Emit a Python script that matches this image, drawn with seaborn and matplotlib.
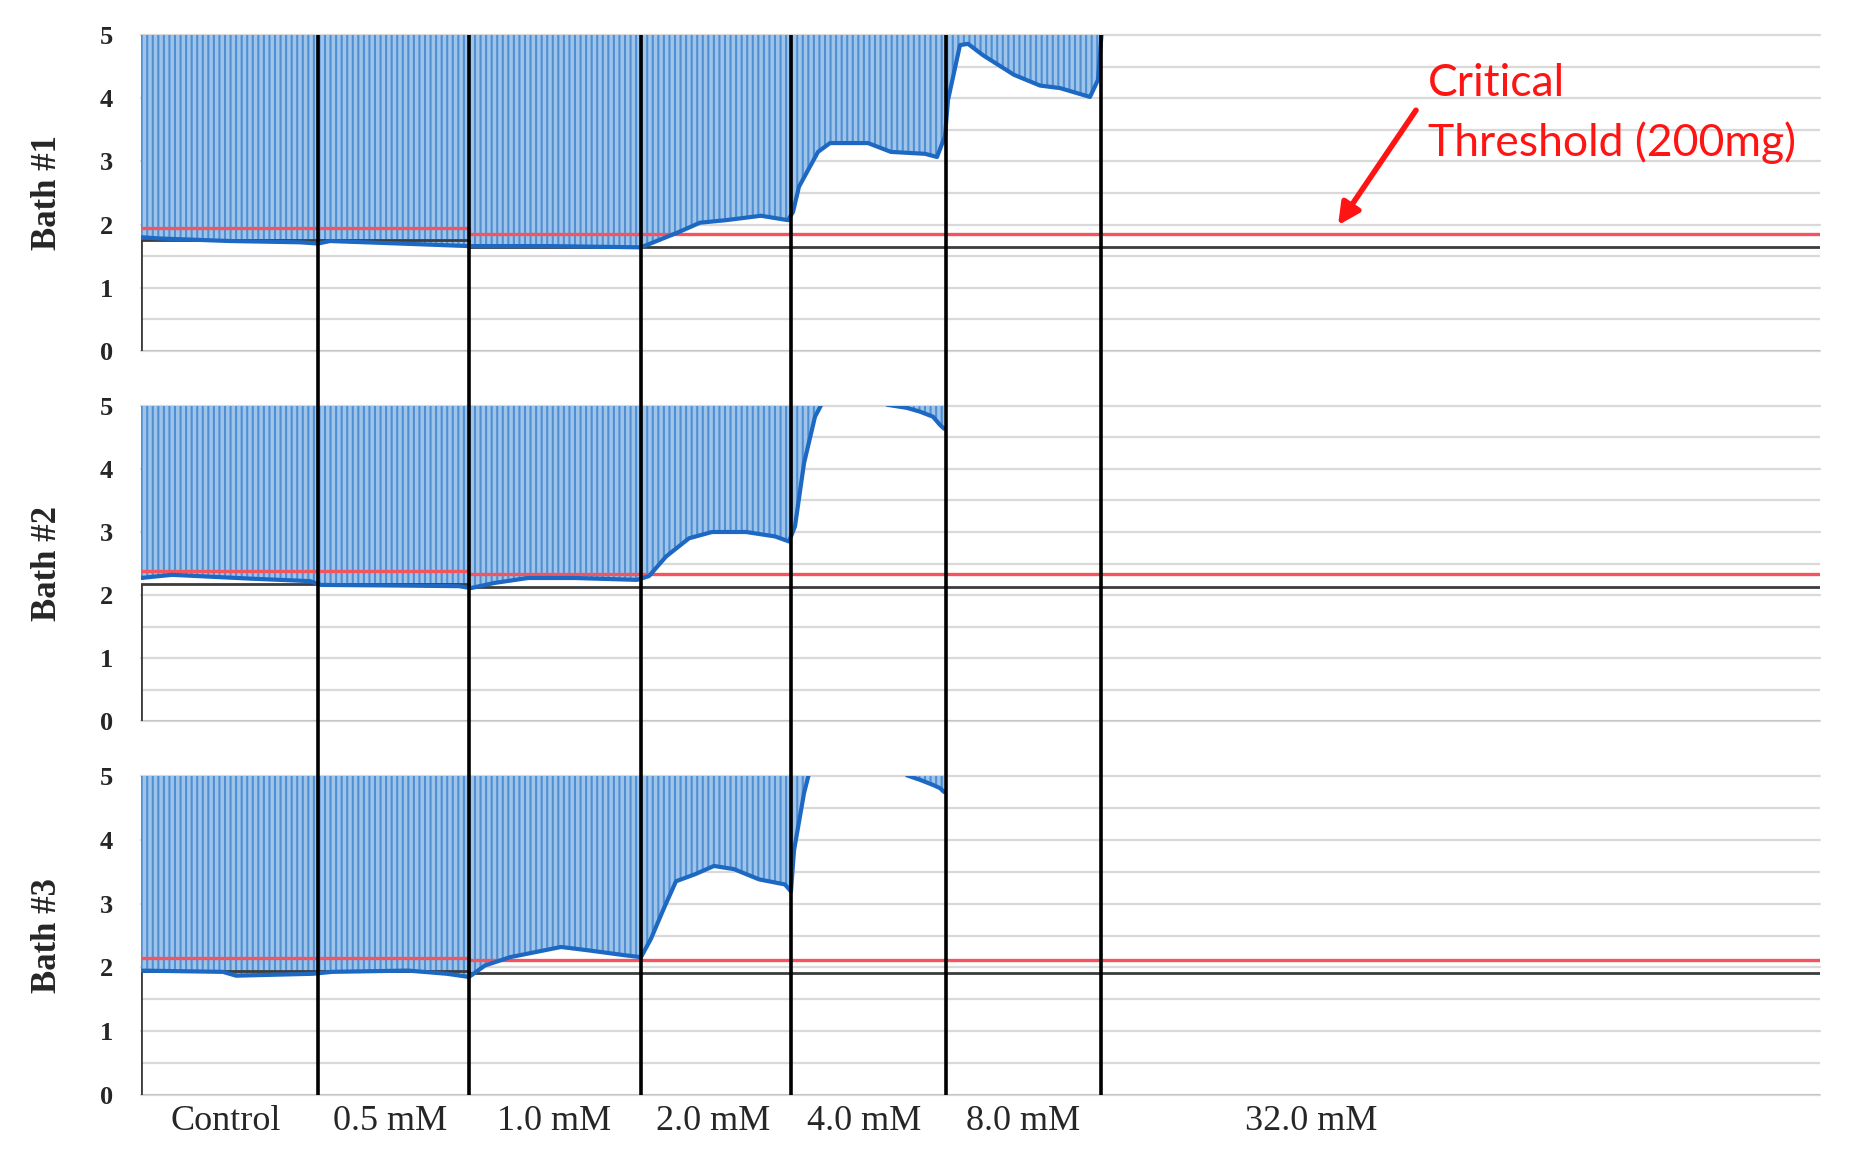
import numpy as np
import pandas as pd
import matplotlib
matplotlib.use('Agg')
import matplotlib.pyplot as plt
import seaborn as sns

# phases of the recording (x in minutes)
phase_labels = ['Control', '0.5 mM', '1.0 mM', '2.0 mM', '4.0 mM', '8.0 mM', '32.0 mM']
phase_edges = [0.0, 17.7, 32.8, 50.0, 65.0, 80.5, 96.0, 167.9]
label_pos = [8.5, 24.9, 41.3, 57.2, 72.3, 88.2, 117.0]

# Bath #1 tension trace (g)
b1_t = [0.0, 1.9, 8.9, 15.9, 17.7, 18.9, 25.9, 32.8, 40.9, 50.0, 53.6, 55.9, 58.5, 62.0,
        64.7, 65.2, 65.8, 67.7, 68.9, 72.7, 75.0, 78.4, 79.6, 80.4, 80.7, 81.9, 82.7,
        84.2, 87.3, 89.9, 91.9, 94.9, 95.7, 96.1]
b1_g = [1.80, 1.78, 1.74, 1.72, 1.70, 1.74, 1.70, 1.66, 1.66, 1.64, 1.87, 2.03, 2.07, 2.14,
        2.07, 2.20, 2.60, 3.15, 3.29, 3.29, 3.15, 3.12, 3.07, 3.40, 3.97, 4.84, 4.86,
        4.68, 4.37, 4.20, 4.16, 4.02, 4.29, 5.10]
b1_t2, b1_g2 = [], []
b1_base_t = [0.0, 0.0, 32.8, 32.8, 167.9]
b1_base_g = [0.0, 1.75, 1.75, 1.65, 1.65]
b1_thr_t = [0.0, 32.8, 32.8, 167.9]
b1_thr_g = [1.95, 1.95, 1.85, 1.85]

# Bath #2
b2_t = [0.0, 3.1, 10.9, 16.9, 18.0, 25.9, 31.8, 33.0, 35.3, 38.7, 43.3, 49.6, 50.8, 52.5,
        54.8, 57.1, 60.5, 63.4, 64.8, 65.4, 66.3, 67.4, 68.3]
b2_g = [2.27, 2.32, 2.26, 2.22, 2.16, 2.15, 2.14, 2.11, 2.19, 2.27, 2.27, 2.24, 2.30, 2.61,
        2.90, 3.00, 3.00, 2.93, 2.85, 3.09, 4.09, 4.83, 5.10]
b2_t2 = [74.6, 76.6, 77.9, 79.2, 79.9, 80.3]
b2_g2 = [5.02, 4.97, 4.91, 4.83, 4.70, 4.64]
b2_base_t = [0.0, 0.0, 32.8, 32.8, 167.9]
b2_base_g = [0.0, 2.18, 2.18, 2.13, 2.13]
b2_thr_t = [0.0, 32.8, 32.8, 167.9]
b2_thr_g = [2.38, 2.38, 2.33, 2.33]

# Bath #3
b3_t = [0.0, 8.2, 9.5, 17.2, 19.1, 26.7, 30.6, 32.8, 34.4, 36.9, 42.0, 44.6, 48.4, 50.0,
        51.0, 52.3, 53.5, 55.4, 57.3, 59.3, 61.8, 64.4, 65.0, 65.3, 66.3, 66.9]
b3_g = [1.95, 1.93, 1.87, 1.90, 1.93, 1.95, 1.90, 1.85, 2.03, 2.16, 2.32, 2.27, 2.19, 2.16,
        2.45, 2.93, 3.35, 3.46, 3.59, 3.54, 3.38, 3.30, 3.19, 3.83, 4.73, 5.10]
b3_t2 = [76.6, 77.9, 79.2, 79.9, 80.3]
b3_g2 = [5.01, 4.94, 4.86, 4.81, 4.75]
b3_base_t = [0.0, 0.0, 32.8, 32.8, 167.9]
b3_base_g = [0.0, 1.95, 1.95, 1.91, 1.91]
b3_thr_t = [0.0, 32.8, 32.8, 167.9]
b3_thr_g = [2.15, 2.15, 2.11, 2.11]

baths = [
    ('Bath #1', b1_t, b1_g, b1_t2, b1_g2, b1_base_t, b1_base_g, b1_thr_t, b1_thr_g),
    ('Bath #2', b2_t, b2_g, b2_t2, b2_g2, b2_base_t, b2_base_g, b2_thr_t, b2_thr_g),
    ('Bath #3', b3_t, b3_g, b3_t2, b3_g2, b3_base_t, b3_base_g, b3_thr_t, b3_thr_g),
]

sns.set_theme(style='white')
plt.rcParams['font.family'] = ['Liberation Serif', 'DejaVu Serif']
plt.rcParams['hatch.linewidth'] = 1.5

trace_blue = '#1c68c2'
spike_face = '#9fc4ea'
spike_line = '#4f8fd4'
thr_red = '#f5545e'
base_grey = '#3c3c3c'

fig = plt.figure(figsize=(18.63, 11.54), dpi=100)
left, width = 141 / 1863, (1820 - 141) / 1863
panel_px = [(35, 351), (406, 721), (776, 1095)]
axes = []
for top, bot in panel_px:
    ax = fig.add_axes([left, 1 - bot / 1154, width, (bot - top) / 1154])
    axes.append(ax)

xmax = phase_edges[-1]
for ax, (name, t, g, t2, g2, bt, bg, rt, rg) in zip(axes, baths):
    ax.set_xlim(0, xmax)
    ax.set_ylim(0, 5)
    ax.set_yticks(np.arange(0, 5.01, 1))
    ax.set_yticks(np.arange(0.5, 5, 1), minor=True)
    ax.grid(True, axis='y', which='both', color='#d9d9d9', lw=1.6)
    for gl in ax.get_ygridlines():
        gl.set_clip_on(False)
    ax.axhline(0, color='#bfbfbf', lw=1.8, zorder=0.6)
    for s in ax.spines.values():
        s.set_visible(False)

    # contraction spikes: dense bursts between the tension trace and the top of the scale
    for tt, gg in [(t, g), (t2, g2)]:
        if len(tt) == 0:
            continue
        tt = np.array(tt)
        gg = np.array(gg)
        ax.fill_between(tt, gg, 5, where=gg < 5, interpolate=True, facecolor=spike_face,
                        edgecolor=spike_line, hatch='|||', linewidth=0, zorder=1)

    sns.lineplot(x=bt, y=bg, ax=ax, color=base_grey, lw=2.0, estimator=None, sort=False, zorder=2)
    sns.lineplot(x=rt, y=rg, ax=ax, color=thr_red, lw=2.4, estimator=None, sort=False, zorder=2)
    sns.lineplot(x=t, y=g, ax=ax, color=trace_blue, lw=3.0, estimator=None, sort=False, zorder=3)
    if len(t2):
        sns.lineplot(x=t2, y=g2, ax=ax, color=trace_blue, lw=3.0, estimator=None, sort=False, zorder=3)

    ax.tick_params(axis='both', which='both', length=0)
    ax.tick_params(axis='y', pad=20)
    ax.set_yticklabels([str(v) for v in range(6)], fontsize=19, fontweight='bold')
    ax.set_ylabel(name, fontsize=25, fontweight='bold')
    ax.yaxis.set_label_coords(-0.046, 0.5)
    ax.set_xlabel('')

for ax in axes[:2]:
    ax.set_xticks([])
axes[2].set_xticks(label_pos)
axes[2].set_xticklabels(phase_labels, fontsize=26)
axes[2].tick_params(axis='x', pad=7)

# concentration change markers running through all three baths
top_frac = 1 - panel_px[0][0] / 1154
bot_frac = 1 - panel_px[2][1] / 1154
ov = fig.add_axes([left, bot_frac, width, top_frac - bot_frac])
ov.set_xlim(0, xmax)
ov.set_ylim(0, 1)
ov.patch.set_alpha(0)
ov.axis('off')
ov.vlines(phase_edges[1:-1], 0, 1, color='black', lw=2.6)

# threshold annotation
axes[0].text(128.7, 4.56, 'Critical\nThreshold (200mg)', color='#ff1414', fontsize=32,
             family=['Lato', 'DejaVu Sans'], va='top', ha='left', linespacing=1.5)
axes[0].annotate('', xy=(119.7, 1.99), xytext=(127.5, 3.81),
                 arrowprops=dict(arrowstyle='-|>', color='#ff1414', lw=4, mutation_scale=32,
                                 shrinkA=0, shrinkB=0))

fig.savefig('out.png', dpi=100)
